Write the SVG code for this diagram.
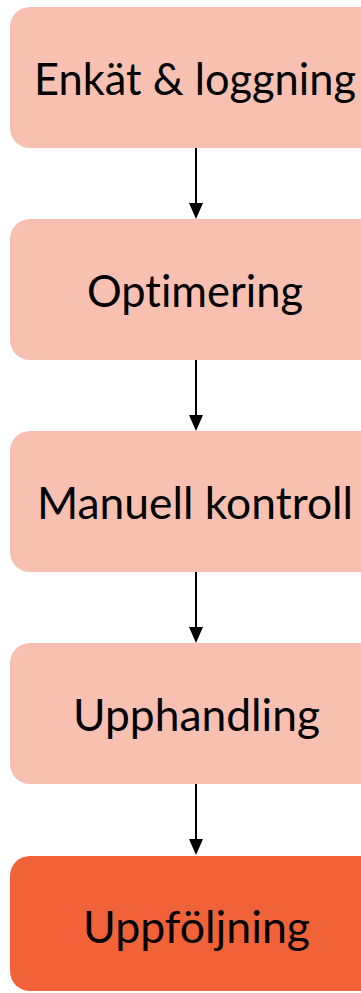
<svg xmlns="http://www.w3.org/2000/svg" width="361" height="993" viewBox="0 0 361 993">
<style>
.box{fill:#F8C0B0}
.last{fill:#F26238}
.lbl{font-family:Lato,"Open Sans","Liberation Sans",sans-serif;font-size:44px;fill:#000;text-anchor:middle;font-variant-ligatures:none;font-feature-settings:"liga" 0,"dlig" 0}
.conn{stroke:#000;stroke-width:2;fill:none}
.head{fill:#000}
</style>
<rect width="361" height="993" fill="#fff"/>
<g id="n1"><rect class="box" x="10" y="7" width="372" height="141" rx="20"/><text class="lbl" x="195" y="95" textLength="322" lengthAdjust="spacingAndGlyphs">Enkät &amp; loggning</text></g>
<g id="n2"><rect class="box" x="10" y="219" width="372" height="141" rx="20"/><text class="lbl" x="195" y="307" textLength="216" lengthAdjust="spacingAndGlyphs">Optimering</text></g>
<g id="n3"><rect class="box" x="10" y="431" width="372" height="141" rx="20"/><text class="lbl" x="195" y="519" textLength="316" lengthAdjust="spacingAndGlyphs">Manuell kontroll</text></g>
<g id="n4"><rect class="box" x="10" y="643" width="372" height="141" rx="20"/><text class="lbl" x="196.5" y="731" textLength="247" lengthAdjust="spacingAndGlyphs">Upphandling</text></g>
<g id="n5"><rect class="last" x="10" y="856" width="372" height="135" rx="20"/><text class="lbl" x="196.5" y="943" textLength="227" lengthAdjust="spacingAndGlyphs">Uppföljning</text></g>
<g id="connectors">
<line class="conn" x1="196" y1="148" x2="196" y2="204"/><polygon class="head" points="189,203 203,203 196,219"/>
<line class="conn" x1="196" y1="360" x2="196" y2="416"/><polygon class="head" points="189,415 203,415 196,431"/>
<line class="conn" x1="196" y1="572" x2="196" y2="628"/><polygon class="head" points="189,627 203,627 196,643"/>
<line class="conn" x1="196" y1="784" x2="196" y2="840"/><polygon class="head" points="189,839 203,839 196,855"/>
</g>
</svg>
